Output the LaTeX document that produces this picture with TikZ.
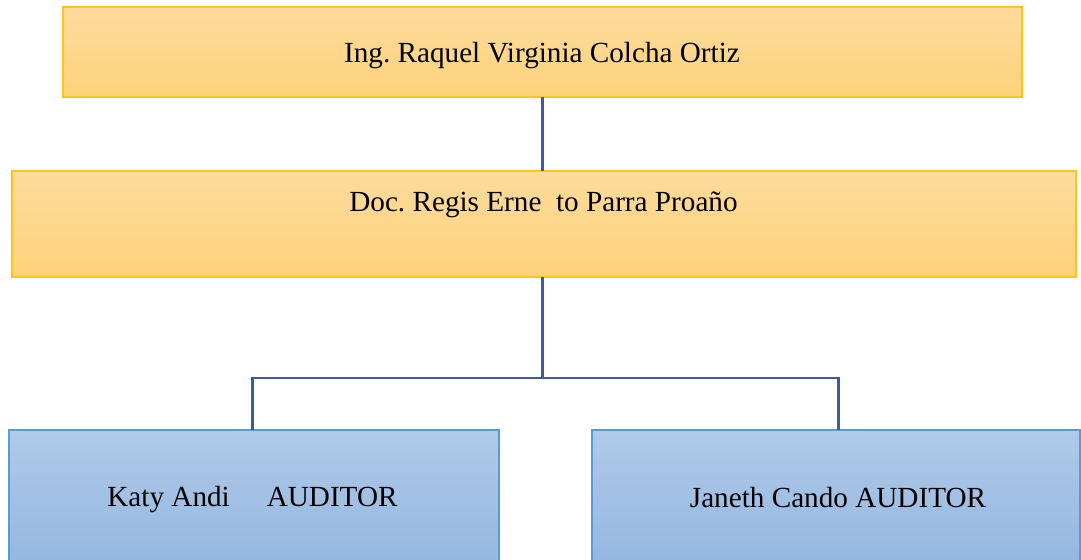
\documentclass[tikz,border=0pt]{standalone}
\usepackage{fontspec}
\setmainfont{Liberation Serif}
\frenchspacing
\begin{document}
\begin{tikzpicture}[x=1bp,y=-1bp,
  ybox/.style={draw=yborder,line width=1.2bp,top color=ytop,bottom color=ybot,inner sep=0pt,outer sep=0pt},
  bbox/.style={draw=bborder,line width=1.2bp,top color=btop,bottom color=bbot,inner sep=0pt,outer sep=0pt},
  lbl/.style={anchor=base,font=\fontsize{29.3}{34}\selectfont,inner sep=0pt},
  conn/.style={draw=connc,line width=2.9bp}]
\definecolor{yborder}{HTML}{FFC31A}
\definecolor{ytop}{HTML}{FDDB9C}
\definecolor{ybot}{HTML}{FDD27A}
\definecolor{bborder}{HTML}{5B9BD5}
\definecolor{btop}{HTML}{B0CAE8}
\definecolor{bbot}{HTML}{92B5E0}
\definecolor{connc}{HTML}{3C5C9E}
\useasboundingbox (0,0) rectangle (1081,560);
\path[ybox] (63,7) rectangle (1022,97);
\coordinate (topb) at (542.5,97);
\path[ybox] (12,171) rectangle (1076,277);
\coordinate (midt) at (542.5,171);
\coordinate (midb) at (542.5,277);
\path[bbox] (9,430) rectangle (499,575);
\coordinate (lt) at (252.5,430);
\path[bbox] (592,430) rectangle (1080,575);
\coordinate (rt) at (838.5,430);
\node[lbl] (t1) at (542,62.5) {Ing. Raquel Virginia Colcha Ortiz};
\node[lbl] (t2) at (543.5,211.5) {Doc. Regis Erne\ \ to Parra Proaño};
\node[lbl] (t3) at (252.5,506) {Katy Andi\hspace{37bp}AUDITOR};
\node[lbl] (t4) at (838,507.5) {Janeth Cando AUDITOR};
\draw[conn] (topb) -- (midt);
\draw[conn] (midb) -- (542.5,378) coordinate (hub);
\draw[conn] (lt) |- (hub) -| (rt);
\end{tikzpicture}
\end{document}
